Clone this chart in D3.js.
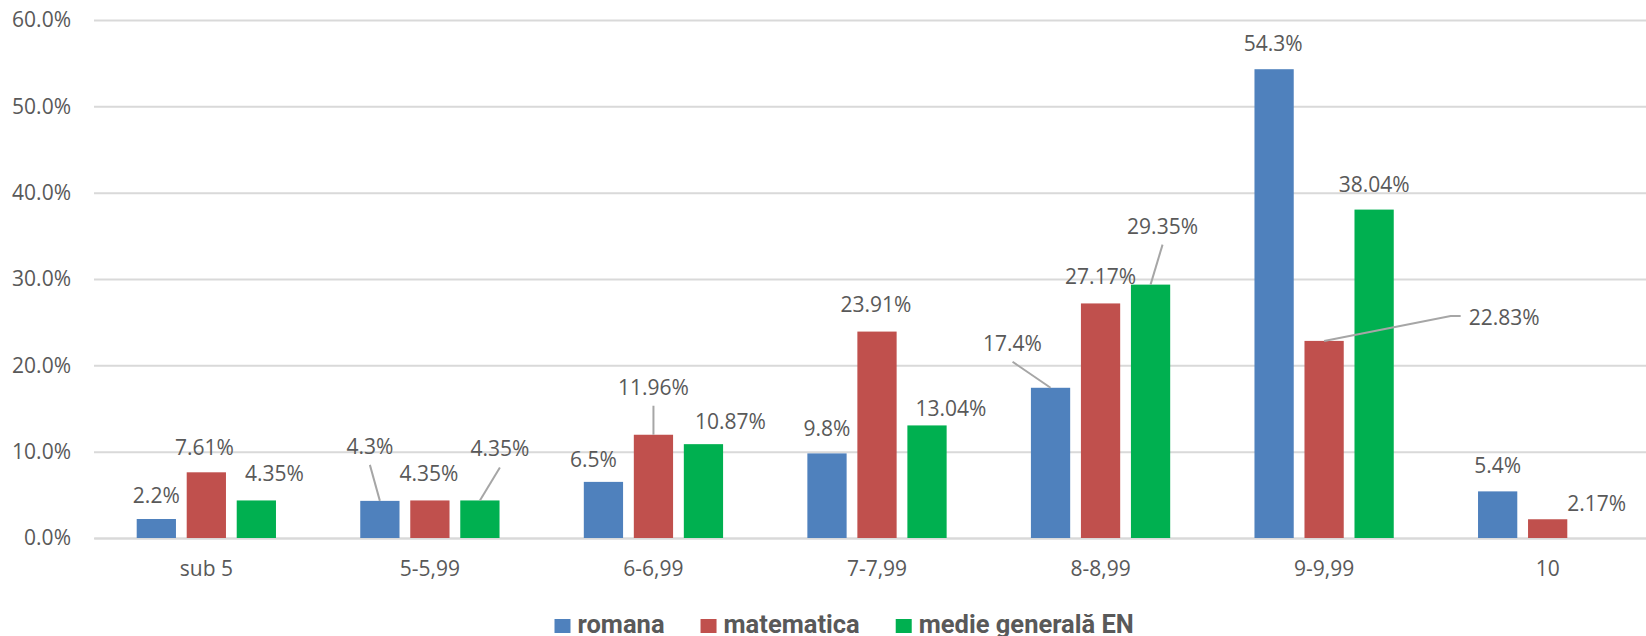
<!DOCTYPE html>
<html lang="ro">
  <head>
    <meta charset="utf-8">
    <title>Distributia notelor</title>
    <script src="https://d3js.org/d3.v7.js"></script>
    <style>
      body { margin: 0; background: white; }
      text { font-family: "Open Sans", "Noto Sans", sans-serif; fill: #595959; }
      .legend text { font-family: "Roboto", sans-serif; font-weight: bold; }
    </style>
  </head>

  <body>
    <script>
      // data (percent)
      const categories = ["sub 5", "5-5,99", "6-6,99", "7-7,99", "8-8,99", "9-9,99", "10"];
      const seriesNames = ["romana", "matematica", "medie generală EN"];
      const romana = [2.2, 4.3, 6.5, 9.8, 17.4, 54.3, 5.4];
      const matematica = [7.61, 4.35, 11.96, 23.91, 27.17, 22.83, 2.17];
      const medie = [4.35, 4.35, 10.87, 13.04, 29.35, 38.04, null];
      const yTicks = [0, 10, 20, 30, 40, 50, 60];

      // label placement (dx from bar centre, baseline offset from bar top) and leader lines
      const romanaLabelPos = [[0,-16],[-10,-47],[-10,-15],[0,-17],[-38,-37],[-1,-18],[0,-18]];
      const matematicaLabelPos = [[-2,-17],[-1,-19],[0,-40],[-1,-20],[0,-19],[180,-16],[49,-8]];
      const medieLabelPos = [[18,-19],[20,-44],[27,-15],[24,-9],[12,-51],[0,-18],null];
      const romanaLeader = [0,1,0,0,1,0,0];
      const matematicaLeader = [0,0,1,0,0,2,0];
      const medieLeader = [0,1,0,0,1,0,0];

      const colors = ["#4F81BD", "#C0504D", "#00B050"];
      const decimals = [1, 2, 2];

      const w = 1646;
      const h = 636;
      const margin = {top: 20, left: 94, bottom: 98};
      const plotRight = 1660;

      const seriesValues = [romana, matematica, medie];
      const seriesLabelPos = [romanaLabelPos, matematicaLabelPos, medieLabelPos];
      const seriesLeader = [romanaLeader, matematicaLeader, medieLeader];

      const rows = [];
      categories.forEach((c, i) => {
        seriesNames.forEach((s, j) => {
          if (seriesValues[j][i] == null) return;
          rows.push({cat: c, series: s, si: j, value: seriesValues[j][i],
                     pos: seriesLabelPos[j][i], leader: seriesLeader[j][i]});
        });
      });

      const x0 = d3.scaleBand()
                   .domain(categories)
                   .range([margin.left, plotRight])
                   .paddingInner(0.377)
                   .paddingOuter(0.191);

      const x1 = d3.scaleBand()
                   .domain(seriesNames)
                   .range([0, x0.bandwidth()])
                   .paddingInner(0.215)
                   .paddingOuter(0);

      const y = d3.scaleLinear()
                  .domain([0, 60])
                  .range([h - margin.bottom, margin.top]);

      const svg = d3.select("body")
                    .append("svg")
                    .attr("width", w)
                    .attr("height", h);

      // y axis with gridlines
      const yAxis = d3.axisLeft(y)
                      .tickValues(yTicks)
                      .tickFormat(d => d.toFixed(1) + "%")
                      .tickSizeInner(-(plotRight - margin.left))
                      .tickSizeOuter(0)
                      .tickPadding(23);

      const gy = svg.append("g")
                    .attr("transform", `translate(${margin.left},0)`)
                    .call(yAxis);
      gy.select(".domain").remove();
      gy.selectAll(".tick line").attr("stroke", "#D9D9D9").attr("stroke-width", 2);
      gy.selectAll(".tick text").style("font-size", "21px").attr("fill", "#595959");

      // x axis
      const xAxis = d3.axisBottom(x0)
                      .tickSize(0)
                      .tickPadding(23);

      const gx = svg.append("g")
                    .attr("transform", `translate(0,${y(0)})`)
                    .call(xAxis);
      gx.select(".domain").attr("stroke", "#D9D9D9").attr("stroke-width", 2);
      gx.selectAll(".tick text").style("font-size", "21px").attr("fill", "#595959");

      // bars
      const barX = d => x0(d.cat) + x1(d.series);
      const barCx = d => barX(d) + x1.bandwidth() / 2;

      svg.append("g")
         .selectAll("rect")
         .data(rows)
         .enter().append("rect")
         .attr("x", barX)
         .attr("y", d => y(d.value))
         .attr("width", x1.bandwidth())
         .attr("height", d => y(0) - y(d.value))
         .attr("fill", d => colors[d.si]);

      // data labels
      const labels = svg.append("g")
                        .selectAll("text")
                        .data(rows)
                        .enter().append("text")
                        .attr("x", d => barCx(d) + d.pos[0])
                        .attr("y", d => y(d.value) + d.pos[1])
                        .attr("text-anchor", "middle")
                        .style("font-size", "21px")
                        .text(d => d.value.toFixed(decimals[d.si]) + "%");

      // leader lines
      const leaders = svg.append("g")
                         .attr("fill", "none")
                         .attr("stroke", "#A6A6A6")
                         .attr("stroke-width", 2);

      labels.each(function(d) {
        if (!d.leader) return;
        const lx = barCx(d) + d.pos[0];
        const ly = y(d.value) + d.pos[1];
        let pts;
        if (d.leader === 1) {
          pts = [[lx, ly + 11], [barCx(d), y(d.value)]];
        } else {
          const left = lx - this.getComputedTextLength() / 2;
          pts = [[left - 8, ly - 9], [left - 18, ly - 9], [barCx(d), y(d.value)]];
        }
        leaders.append("path").attr("d", d3.line()(pts));
      });

      // legend
      const legend = svg.append("g").attr("class", "legend");
      let lxPos = 554.5;
      seriesNames.forEach((s, j) => {
        legend.append("rect")
              .attr("x", lxPos)
              .attr("y", 619)
              .attr("width", 16)
              .attr("height", 14)
              .attr("fill", colors[j]);
        const t = legend.append("text")
                        .attr("x", lxPos + 23)
                        .attr("y", 633)
                        .style("font-size", "25.5px")
                        .text(s);
        lxPos += 23 + t.node().getComputedTextLength() + 36;
      });
    </script>
  </body>
</html>
